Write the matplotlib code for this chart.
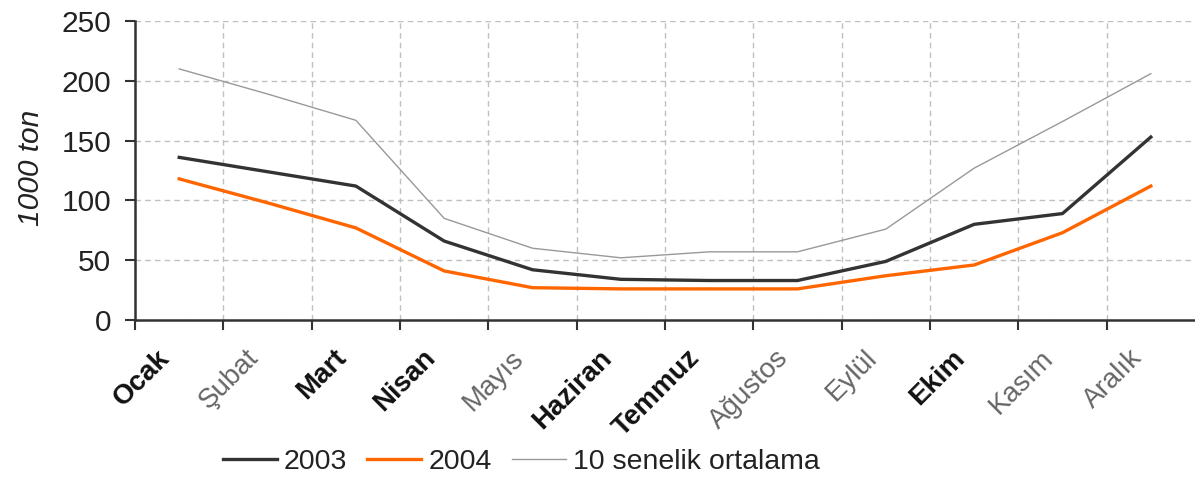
import matplotlib.pyplot as plt
import numpy as np

plt.rcParams["font.family"] = ["Liberation Sans", "DejaVu Sans"]

# aylar ve degerler (1000 ton)
months = ["Ocak", "Şubat", "Mart", "Nisan", "Mayıs", "Haziran",
          "Temmuz", "Ağustos", "Eylül", "Ekim", "Kasım", "Aralık"]
bold_months = ["Ocak", "Mart", "Nisan", "Haziran", "Temmuz", "Ekim"]

y2003 = [136, 124, 112, 66, 42, 34, 33, 33, 49, 80, 89, 153]
y2004 = [118, 98, 77, 41, 27, 26, 26, 26, 37, 46, 73, 112]
avg10 = [210, 189, 167, 85, 60, 52, 57, 57, 76, 127, 166, 206]

fig = plt.figure(figsize=(11.95, 4.79), dpi=100)
ax = fig.add_axes([0.113, 0.332, 0.887, 0.624])

x = np.arange(len(months))
l1, = ax.plot(x, y2003, color="#333333", lw=2.4, label="2003")
l2, = ax.plot(x, y2004, color="#ff6600", lw=2.4, label="2004")
l3, = ax.plot(x, avg10, color="#999999", lw=1.0, label="10 senelik ortalama")

ax.set_xlim(-0.5, 11.5)
ax.set_ylim(0, 250)
ax.set_yticks(range(0, 251, 50))
ax.set_xticks(np.arange(-0.5, 11.0, 1.0))
ax.set_xticklabels([])
# etiketler biraz sola kaymis
ax.set_xticks(x - 0.25, minor=True)
ax.set_xticklabels(months, minor=True, rotation=45, ha="right",
                   rotation_mode="anchor", fontsize=20)
for lab in ax.get_xticklabels(minor=True):
    if lab.get_text() in bold_months:
        lab.set_fontweight("bold")
        lab.set_color("#111111")
    else:
        lab.set_color("#666666")

ax.tick_params(axis="x", which="minor", length=0, pad=18)
ax.tick_params(axis="both", which="major", length=7, width=1.5,
               color="#333333", direction="out")
ax.tick_params(axis="y", labelsize=21.5, labelcolor="#222222", pad=10)

ax.grid(True, which="major", color="#c0c0c0", lw=1.0, ls=(0, (4, 3)))
ax.set_axisbelow(True)

for s in ["top", "right"]:
    ax.spines[s].set_visible(False)
for s in ["left", "bottom"]:
    ax.spines[s].set_color("#333333")
    ax.spines[s].set_linewidth(1.8)

ax.set_ylabel("1000 ton", fontsize=21.5, style="italic", color="#222222")
ax.yaxis.set_label_coords(-0.085, 0.51)

fig.legend(handles=[l1, l2, l3], loc="center", bbox_to_anchor=(0.436, 0.036),
           ncol=3, frameon=False, fontsize=20.5, handlelength=1.9,
           handletextpad=0.25, columnspacing=0.7, labelcolor="#222222")

fig.savefig("out.png", dpi=100)
